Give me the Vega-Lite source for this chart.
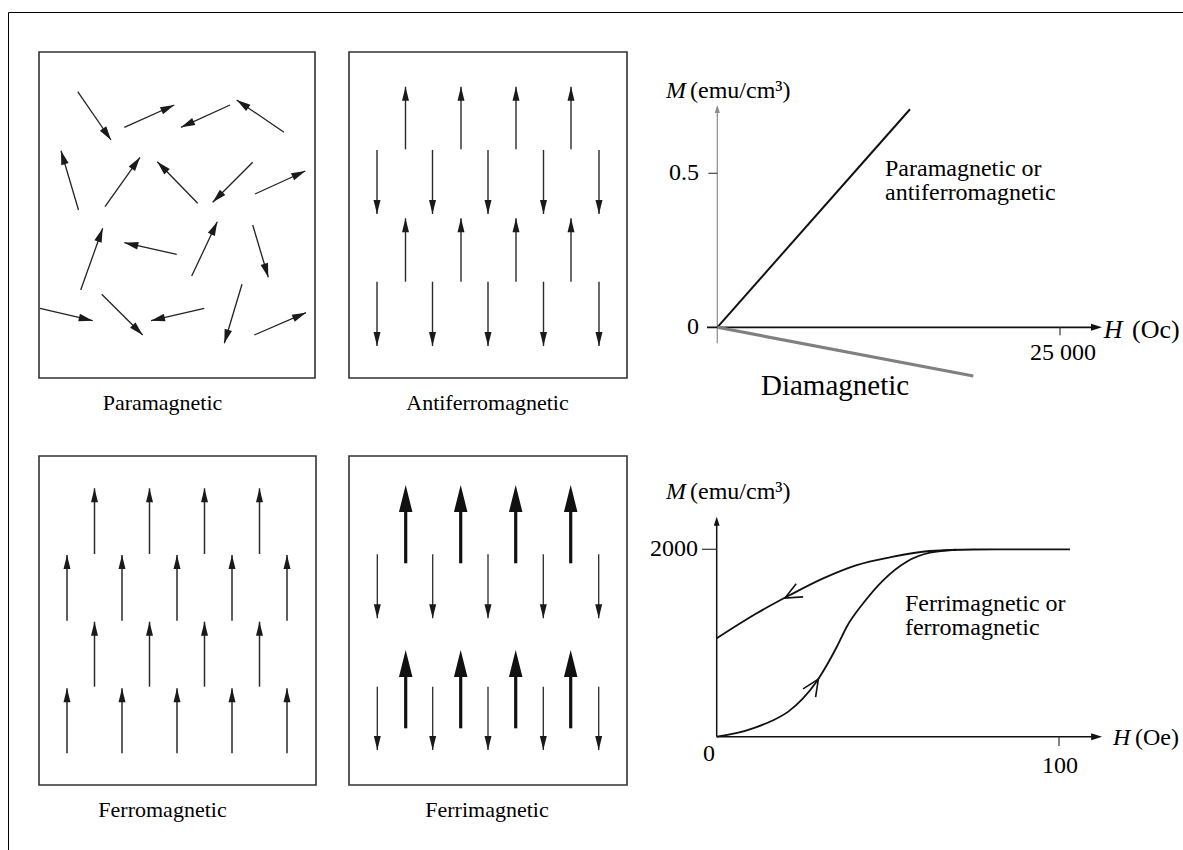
{
"$schema": "https://vega.github.io/schema/vega-lite/v6.json",
"width": 1175,
"height": 838,
"autosize": {"type": "none"},
"padding": {"left": 8, "top": 12, "right": 0, "bottom": 0},
"background": "white",
"config": {"view": {"stroke": "#000000", "strokeWidth": 1}, "text": {"font": "Liberation Serif", "color": "#000000"}},
"datasets": {
"para": [
{"x0":3.87,"y0":28.63,"x1":7.2,"y1":23.8,"angle":145.4},
{"x0":8.53,"y0":25.07,"x1":13.53,"y1":27.3,"angle":66.0},
{"x0":19.1,"y0":27.3,"x1":14.2,"y1":25.07,"angle":-114.5},
{"x0":24.5,"y0":24.57,"x1":19.77,"y1":27.8,"angle":-55.7},
{"x0":3.95,"y0":16.8,"x1":2.2,"y1":22.73,"angle":-16.4},
{"x0":6.6,"y0":17.13,"x1":10.1,"y1":22.07,"angle":35.3},
{"x0":15.87,"y0":17.47,"x1":11.83,"y1":21.63,"angle":-44.2},
{"x0":21.37,"y0":21.57,"x1":17.37,"y1":17.57,"angle":-135},
{"x0":21.6,"y0":18.4,"x1":26.63,"y1":20.7,"angle":65.4},
{"x0":4.17,"y0":8.8,"x1":6.37,"y1":14.97,"angle":19.6},
{"x0":13.77,"y0":12.37,"x1":8.53,"y1":13.53,"angle":-77.5},
{"x0":15.27,"y0":10.2,"x1":17.83,"y1":15.63,"angle":25.2},
{"x0":21.37,"y0":15.3,"x1":22.93,"y1":10.07,"angle":163.4},
{"x0":0.1,"y0":6.97,"x1":5.37,"y1":5.73,"angle":103.2},
{"x0":6.27,"y0":8.37,"x1":10.37,"y1":4.3,"angle":134.8},
{"x0":16.53,"y0":6.97,"x1":11.2,"y1":5.73,"angle":-103.1},
{"x0":20.3,"y0":9.37,"x1":18.53,"y1":3.47,"angle":-163.3},
{"x0":21.53,"y0":4.3,"x1":26.7,"y1":6.53,"angle":66.7}
],
"afm": [
{"x0":5.65,"y0":22.87,"x1":5.65,"y1":29.13,"angle":0},
{"x0":11.2,"y0":22.87,"x1":11.2,"y1":29.13,"angle":0},
{"x0":16.7,"y0":22.87,"x1":16.7,"y1":29.13,"angle":0},
{"x0":22.2,"y0":22.87,"x1":22.2,"y1":29.13,"angle":0},
{"x0":2.8,"y0":22.8,"x1":2.8,"y1":16.4,"angle":180},
{"x0":8.35,"y0":22.8,"x1":8.35,"y1":16.4,"angle":180},
{"x0":13.9,"y0":22.8,"x1":13.9,"y1":16.4,"angle":180},
{"x0":19.45,"y0":22.8,"x1":19.45,"y1":16.4,"angle":180},
{"x0":25.0,"y0":22.8,"x1":25.0,"y1":16.4,"angle":180},
{"x0":5.65,"y0":9.63,"x1":5.65,"y1":15.97,"angle":0},
{"x0":11.2,"y0":9.63,"x1":11.2,"y1":15.97,"angle":0},
{"x0":16.7,"y0":9.63,"x1":16.7,"y1":15.97,"angle":0},
{"x0":22.2,"y0":9.63,"x1":22.2,"y1":15.97,"angle":0},
{"x0":2.8,"y0":9.63,"x1":2.8,"y1":3.2,"angle":180},
{"x0":8.35,"y0":9.63,"x1":8.35,"y1":3.2,"angle":180},
{"x0":13.9,"y0":9.63,"x1":13.9,"y1":3.2,"angle":180},
{"x0":19.45,"y0":9.63,"x1":19.45,"y1":3.2,"angle":180},
{"x0":25.0,"y0":9.63,"x1":25.0,"y1":3.2,"angle":180}
],
"fm": [
{"x0":5.55,"y0":23.1,"x1":5.55,"y1":29.67,"angle":0},
{"x0":11.05,"y0":23.1,"x1":11.05,"y1":29.67,"angle":0},
{"x0":16.55,"y0":23.1,"x1":16.55,"y1":29.67,"angle":0},
{"x0":22.05,"y0":23.1,"x1":22.05,"y1":29.67,"angle":0},
{"x0":2.8,"y0":16.43,"x1":2.8,"y1":23.0,"angle":0},
{"x0":8.3,"y0":16.43,"x1":8.3,"y1":23.0,"angle":0},
{"x0":13.8,"y0":16.43,"x1":13.8,"y1":23.0,"angle":0},
{"x0":19.3,"y0":16.43,"x1":19.3,"y1":23.0,"angle":0},
{"x0":24.8,"y0":16.43,"x1":24.8,"y1":23.0,"angle":0},
{"x0":5.55,"y0":9.83,"x1":5.55,"y1":16.33,"angle":0},
{"x0":11.05,"y0":9.83,"x1":11.05,"y1":16.33,"angle":0},
{"x0":16.55,"y0":9.83,"x1":16.55,"y1":16.33,"angle":0},
{"x0":22.05,"y0":9.83,"x1":22.05,"y1":16.33,"angle":0},
{"x0":2.8,"y0":3.17,"x1":2.8,"y1":9.67,"angle":0},
{"x0":8.3,"y0":3.17,"x1":8.3,"y1":9.67,"angle":0},
{"x0":13.8,"y0":3.17,"x1":13.8,"y1":9.67,"angle":0},
{"x0":19.3,"y0":3.17,"x1":19.3,"y1":9.67,"angle":0},
{"x0":24.8,"y0":3.17,"x1":24.8,"y1":9.67,"angle":0}
],
"fim": [
{"moment":"large","x0":5.67,"y0":22.17,"x1":5.67,"y1":30.0,"angle":0},
{"moment":"large","x0":11.17,"y0":22.17,"x1":11.17,"y1":30.0,"angle":0},
{"moment":"large","x0":16.67,"y0":22.17,"x1":16.67,"y1":30.0,"angle":0},
{"moment":"large","x0":22.17,"y0":22.17,"x1":22.17,"y1":30.0,"angle":0},
{"moment":"small","x0":2.83,"y0":23.07,"x1":2.83,"y1":16.67,"angle":180},
{"moment":"small","x0":8.37,"y0":23.07,"x1":8.37,"y1":16.67,"angle":180},
{"moment":"small","x0":13.9,"y0":23.07,"x1":13.9,"y1":16.67,"angle":180},
{"moment":"small","x0":19.43,"y0":23.07,"x1":19.43,"y1":16.67,"angle":180},
{"moment":"small","x0":24.97,"y0":23.07,"x1":24.97,"y1":16.67,"angle":180},
{"moment":"large","x0":5.67,"y0":5.67,"x1":5.67,"y1":13.5,"angle":0},
{"moment":"large","x0":11.17,"y0":5.67,"x1":11.17,"y1":13.5,"angle":0},
{"moment":"large","x0":16.67,"y0":5.67,"x1":16.67,"y1":13.5,"angle":0},
{"moment":"large","x0":22.17,"y0":5.67,"x1":22.17,"y1":13.5,"angle":0},
{"moment":"small","x0":2.83,"y0":9.83,"x1":2.83,"y1":3.5,"angle":180},
{"moment":"small","x0":8.37,"y0":9.83,"x1":8.37,"y1":3.5,"angle":180},
{"moment":"small","x0":13.9,"y0":9.83,"x1":13.9,"y1":3.5,"angle":180},
{"moment":"small","x0":19.43,"y0":9.83,"x1":19.43,"y1":3.5,"angle":180},
{"moment":"small","x0":24.97,"y0":9.83,"x1":24.97,"y1":3.5,"angle":180}
],
"g1lines": [
{"material":"paramagnetic","H":0,"M":0},
{"material":"paramagnetic","H":14058,"M":0.708},
{"material":"diamagnetic","H":0,"M":0},
{"material":"diamagnetic","H":18675,"M":-0.158}
],
"hyst": [
{"branch":"decreasing","H":0,"M":1050},
{"branch":"decreasing","H":11.7,"M":1317},
{"branch":"decreasing","H":21.4,"M":1512},
{"branch":"decreasing","H":31.1,"M":1690},
{"branch":"decreasing","H":40.9,"M":1832},
{"branch":"decreasing","H":50.6,"M":1915},
{"branch":"decreasing","H":62.3,"M":1982},
{"branch":"decreasing","H":75,"M":1998},
{"branch":"decreasing","H":103.2,"M":2000},
{"branch":"increasing","H":0,"M":0},
{"branch":"increasing","H":6,"M":40},
{"branch":"increasing","H":11,"M":95},
{"branch":"increasing","H":16.5,"M":175},
{"branch":"increasing","H":21,"M":270},
{"branch":"increasing","H":25,"M":400},
{"branch":"increasing","H":29.2,"M":590},
{"branch":"increasing","H":35.1,"M":960},
{"branch":"increasing","H":38.0,"M":1174},
{"branch":"increasing","H":42.8,"M":1424},
{"branch":"increasing","H":48.7,"M":1672},
{"branch":"increasing","H":55.5,"M":1868},
{"branch":"increasing","H":62.3,"M":1964},
{"branch":"increasing","H":70,"M":1995}
],
"g2arrows": [
{"branch":"decreasing","H":19.95,"M":1480,"angle":-117.9},
{"branch":"increasing","H":29.7,"M":615,"angle":33}
]
},
"resolve": {"scale": {"x": "independent", "y": "independent"}},
"layer": [
{
"data": {"name": "para"},
"layer": [
{"data": {"values": [{}]}, "mark": {"type": "rect", "filled": false, "color": "#333333", "strokeWidth": 1.6},
 "encoding": {"x": {"datum": 0, "type": "quantitative", "scale": {"domain": [0, 27.6], "range": [31, 307], "nice": false, "zero": false}, "axis": null}, "x2": {"datum": 27.6},
  "y": {"datum": 0, "type": "quantitative", "scale": {"domain": [0, 32.6], "range": [366, 40], "nice": false, "zero": false}, "axis": null}, "y2": {"datum": 32.6}}},
{"mark": {"type": "rule", "color": "#222222", "strokeWidth": 1.3},
 "encoding": {"x": {"field": "x0", "type": "quantitative", "scale": {"domain": [0, 27.6], "range": [31, 307], "nice": false, "zero": false}, "axis": null}, "x2": {"field": "x1"},
  "y": {"field": "y0", "type": "quantitative", "scale": {"domain": [0, 32.6], "range": [366, 40], "nice": false, "zero": false}, "axis": null}, "y2": {"field": "y1"}}},
{"mark": {"type": "point", "shape": "M0,0L-0.55,2L0.55,2Z", "filled": true, "color": "#1a1a1a", "opacity": 1, "size": 196, "strokeWidth": 0},
 "encoding": {"x": {"field": "x1", "type": "quantitative", "scale": {"domain": [0, 27.6], "range": [31, 307], "nice": false, "zero": false}, "axis": null},
  "y": {"field": "y1", "type": "quantitative", "scale": {"domain": [0, 32.6], "range": [366, 40], "nice": false, "zero": false}, "axis": null},
  "angle": {"field": "angle", "type": "quantitative", "scale": null}}},
{"data": {"values": [{}]}, "mark": {"type": "text", "fontSize": 22, "align": "center", "baseline": "alphabetic"},
 "encoding": {"x": {"datum": 12.35, "type": "quantitative", "scale": {"domain": [0, 27.6], "range": [31, 307], "nice": false, "zero": false}, "axis": null},
  "y": {"datum": -3.2, "type": "quantitative", "scale": {"domain": [0, 32.6], "range": [366, 40], "nice": false, "zero": false}, "axis": null},
  "text": {"value": "Paramagnetic"}}}
]
},
{
"data": {"name": "afm"},
"layer": [
{"data": {"values": [{}]}, "mark": {"type": "rect", "filled": false, "color": "#333333", "strokeWidth": 1.6},
 "encoding": {"x": {"datum": 0, "type": "quantitative", "scale": {"domain": [0, 27.8], "range": [341, 619], "nice": false, "zero": false}, "axis": null}, "x2": {"datum": 27.8},
  "y": {"datum": 0, "type": "quantitative", "scale": {"domain": [0, 32.6], "range": [366, 40], "nice": false, "zero": false}, "axis": null}, "y2": {"datum": 32.6}}},
{"mark": {"type": "rule", "color": "#2a2a2a", "strokeWidth": 1.4},
 "encoding": {"x": {"field": "x0", "type": "quantitative", "scale": {"domain": [0, 27.8], "range": [341, 619], "nice": false, "zero": false}, "axis": null}, "x2": {"field": "x1"},
  "y": {"field": "y0", "type": "quantitative", "scale": {"domain": [0, 32.6], "range": [366, 40], "nice": false, "zero": false}, "axis": null}, "y2": {"field": "y1"}}},
{"mark": {"type": "point", "shape": "M0,0L-0.5,2L0.5,2Z", "filled": true, "color": "#1a1a1a", "opacity": 1, "size": 196, "strokeWidth": 0},
 "encoding": {"x": {"field": "x1", "type": "quantitative", "scale": {"domain": [0, 27.8], "range": [341, 619], "nice": false, "zero": false}, "axis": null},
  "y": {"field": "y1", "type": "quantitative", "scale": {"domain": [0, 32.6], "range": [366, 40], "nice": false, "zero": false}, "axis": null},
  "angle": {"field": "angle", "type": "quantitative", "scale": null}}},
{"data": {"values": [{}]}, "mark": {"type": "text", "fontSize": 22, "align": "center", "baseline": "alphabetic"},
 "encoding": {"x": {"datum": 13.85, "type": "quantitative", "scale": {"domain": [0, 27.8], "range": [341, 619], "nice": false, "zero": false}, "axis": null},
  "y": {"datum": -3.2, "type": "quantitative", "scale": {"domain": [0, 32.6], "range": [366, 40], "nice": false, "zero": false}, "axis": null},
  "text": {"value": "Antiferromagnetic"}}}
]
},
{
"data": {"name": "fm"},
"layer": [
{"data": {"values": [{}]}, "mark": {"type": "rect", "filled": false, "color": "#333333", "strokeWidth": 1.6},
 "encoding": {"x": {"datum": 0, "type": "quantitative", "scale": {"domain": [0, 27.7], "range": [31, 308], "nice": false, "zero": false}, "axis": null}, "x2": {"datum": 27.7},
  "y": {"datum": 0, "type": "quantitative", "scale": {"domain": [0, 32.9], "range": [773, 444], "nice": false, "zero": false}, "axis": null}, "y2": {"datum": 32.9}}},
{"mark": {"type": "rule", "color": "#2a2a2a", "strokeWidth": 1.5},
 "encoding": {"x": {"field": "x0", "type": "quantitative", "scale": {"domain": [0, 27.7], "range": [31, 308], "nice": false, "zero": false}, "axis": null}, "x2": {"field": "x1"},
  "y": {"field": "y0", "type": "quantitative", "scale": {"domain": [0, 32.9], "range": [773, 444], "nice": false, "zero": false}, "axis": null}, "y2": {"field": "y1"}}},
{"mark": {"type": "point", "shape": "M0,0L-0.5,2L0.5,2Z", "filled": true, "color": "#1a1a1a", "opacity": 1, "size": 196, "strokeWidth": 0},
 "encoding": {"x": {"field": "x1", "type": "quantitative", "scale": {"domain": [0, 27.7], "range": [31, 308], "nice": false, "zero": false}, "axis": null},
  "y": {"field": "y1", "type": "quantitative", "scale": {"domain": [0, 32.9], "range": [773, 444], "nice": false, "zero": false}, "axis": null},
  "angle": {"field": "angle", "type": "quantitative", "scale": null}}},
{"data": {"values": [{}]}, "mark": {"type": "text", "fontSize": 22, "align": "center", "baseline": "alphabetic"},
 "encoding": {"x": {"datum": 12.35, "type": "quantitative", "scale": {"domain": [0, 27.7], "range": [31, 308], "nice": false, "zero": false}, "axis": null},
  "y": {"datum": -3.2, "type": "quantitative", "scale": {"domain": [0, 32.9], "range": [773, 444], "nice": false, "zero": false}, "axis": null},
  "text": {"value": "Ferromagnetic"}}}
]
},
{
"data": {"name": "fim"},
"layer": [
{"data": {"values": [{}]}, "mark": {"type": "rect", "filled": false, "color": "#333333", "strokeWidth": 1.6},
 "encoding": {"x": {"datum": 0, "type": "quantitative", "scale": {"domain": [0, 27.8], "range": [341, 619], "nice": false, "zero": false}, "axis": null}, "x2": {"datum": 27.8},
  "y": {"datum": 0, "type": "quantitative", "scale": {"domain": [0, 32.9], "range": [773, 444], "nice": false, "zero": false}, "axis": null}, "y2": {"datum": 32.9}}},
{"transform": [{"filter": "datum.moment === 'large'"}], "mark": {"type": "rule", "color": "#111111", "strokeWidth": 3.2, "y2Offset": 12},
 "encoding": {"x": {"field": "x0", "type": "quantitative", "scale": {"domain": [0, 27.8], "range": [341, 619], "nice": false, "zero": false}, "axis": null}, "x2": {"field": "x1"},
  "y": {"field": "y0", "type": "quantitative", "scale": {"domain": [0, 32.9], "range": [773, 444], "nice": false, "zero": false}, "axis": null}, "y2": {"field": "y1"}}},
{"transform": [{"filter": "datum.moment === 'small'"}], "mark": {"type": "rule", "color": "#2a2a2a", "strokeWidth": 1.3},
 "encoding": {"x": {"field": "x0", "type": "quantitative", "scale": {"domain": [0, 27.8], "range": [341, 619], "nice": false, "zero": false}, "axis": null}, "x2": {"field": "x1"},
  "y": {"field": "y0", "type": "quantitative", "scale": {"domain": [0, 32.9], "range": [773, 444], "nice": false, "zero": false}, "axis": null}, "y2": {"field": "y1"}}},
{"transform": [{"filter": "datum.moment === 'large'"}], "mark": {"type": "point", "shape": "M0,0L-0.5,2L0.5,2Z", "filled": true, "color": "#111111", "opacity": 1, "size": 729, "strokeWidth": 0},
 "encoding": {"x": {"field": "x1", "type": "quantitative", "scale": {"domain": [0, 27.8], "range": [341, 619], "nice": false, "zero": false}, "axis": null},
  "y": {"field": "y1", "type": "quantitative", "scale": {"domain": [0, 32.9], "range": [773, 444], "nice": false, "zero": false}, "axis": null},
  "angle": {"field": "angle", "type": "quantitative", "scale": null}}},
{"transform": [{"filter": "datum.moment === 'small'"}], "mark": {"type": "point", "shape": "M0,0L-0.5,2L0.5,2Z", "filled": true, "color": "#1a1a1a", "opacity": 1, "size": 196, "strokeWidth": 0},
 "encoding": {"x": {"field": "x1", "type": "quantitative", "scale": {"domain": [0, 27.8], "range": [341, 619], "nice": false, "zero": false}, "axis": null},
  "y": {"field": "y1", "type": "quantitative", "scale": {"domain": [0, 32.9], "range": [773, 444], "nice": false, "zero": false}, "axis": null},
  "angle": {"field": "angle", "type": "quantitative", "scale": null}}},
{"data": {"values": [{}]}, "mark": {"type": "text", "fontSize": 22, "align": "center", "baseline": "alphabetic"},
 "encoding": {"x": {"datum": 13.8, "type": "quantitative", "scale": {"domain": [0, 27.8], "range": [341, 619], "nice": false, "zero": false}, "axis": null},
  "y": {"datum": -3.2, "type": "quantitative", "scale": {"domain": [0, 32.9], "range": [773, 444], "nice": false, "zero": false}, "axis": null},
  "text": {"value": "Ferrimagnetic"}}}
]
},
{
"data": {"values": [{}]},
"layer": [
{"mark": {"type": "rule", "color": "#8c8c8c", "strokeWidth": 1.2},
 "encoding": {"x": {"datum": 0, "type": "quantitative", "scale": {"domain": [0, 25000], "range": [709.3, 1052], "nice": false, "zero": false}, "axis": null},
  "y": {"datum": -0.052, "type": "quantitative", "scale": {"domain": [0, 0.5], "range": [315.3, 161.3], "nice": false, "zero": false}, "axis": null}, "y2": {"datum": 0.715}}},
{"mark": {"type": "point", "shape": "M0,0L-0.65,2L0.65,2Z", "filled": true, "color": "#8c8c8c", "opacity": 1, "size": 64, "strokeWidth": 0},
 "encoding": {"x": {"datum": 0, "type": "quantitative", "scale": {"domain": [0, 25000], "range": [709.3, 1052], "nice": false, "zero": false}, "axis": null},
  "y": {"datum": 0.722, "type": "quantitative", "scale": {"domain": [0, 0.5], "range": [315.3, 161.3], "nice": false, "zero": false}, "axis": null}, "angle": {"value": 0}}},
{"mark": {"type": "rule", "color": "#111111", "strokeWidth": 1.8},
 "encoding": {"x": {"datum": -750, "type": "quantitative", "scale": {"domain": [0, 25000], "range": [709.3, 1052], "nice": false, "zero": false}, "axis": null}, "x2": {"datum": 27700},
  "y": {"datum": 0, "type": "quantitative", "scale": {"domain": [0, 0.5], "range": [315.3, 161.3], "nice": false, "zero": false}, "axis": null}}},
{"mark": {"type": "point", "shape": "M0,0L-0.65,2L0.65,2Z", "filled": true, "color": "#111111", "opacity": 1, "size": 121, "strokeWidth": 0},
 "encoding": {"x": {"datum": 28064, "type": "quantitative", "scale": {"domain": [0, 25000], "range": [709.3, 1052], "nice": false, "zero": false}, "axis": null},
  "y": {"datum": 0, "type": "quantitative", "scale": {"domain": [0, 0.5], "range": [315.3, 161.3], "nice": false, "zero": false}, "axis": null}, "angle": {"value": 90}}},
{"mark": {"type": "rule", "color": "#444444", "strokeWidth": 1.2},
 "encoding": {"x": {"datum": -650, "type": "quantitative", "scale": {"domain": [0, 25000], "range": [709.3, 1052], "nice": false, "zero": false}, "axis": null}, "x2": {"datum": 0},
  "y": {"datum": 0.5, "type": "quantitative", "scale": {"domain": [0, 0.5], "range": [315.3, 161.3], "nice": false, "zero": false}, "axis": null}}},
{"mark": {"type": "rule", "color": "#333333", "strokeWidth": 1.2},
 "encoding": {"x": {"datum": 25000, "type": "quantitative", "scale": {"domain": [0, 25000], "range": [709.3, 1052], "nice": false, "zero": false}, "axis": null},
  "y": {"datum": 0, "type": "quantitative", "scale": {"domain": [0, 0.5], "range": [315.3, 161.3], "nice": false, "zero": false}, "axis": null}, "y2": {"datum": -0.026}}},
{"data": {"name": "g1lines"}, "transform": [{"filter": "datum.material === 'paramagnetic'"}], "mark": {"type": "line", "color": "#111111", "strokeWidth": 2},
 "encoding": {"x": {"field": "H", "type": "quantitative", "scale": {"domain": [0, 25000], "range": [709.3, 1052], "nice": false, "zero": false}, "axis": null},
  "y": {"field": "M", "type": "quantitative", "scale": {"domain": [0, 0.5], "range": [315.3, 161.3], "nice": false, "zero": false}, "axis": null}}},
{"data": {"name": "g1lines"}, "transform": [{"filter": "datum.material === 'diamagnetic'"}], "mark": {"type": "line", "color": "#808080", "strokeWidth": 3.2},
 "encoding": {"x": {"field": "H", "type": "quantitative", "scale": {"domain": [0, 25000], "range": [709.3, 1052], "nice": false, "zero": false}, "axis": null},
  "y": {"field": "M", "type": "quantitative", "scale": {"domain": [0, 0.5], "range": [315.3, 161.3], "nice": false, "zero": false}, "axis": null}}},
{"mark": {"type": "text", "fontSize": 24, "align": "right", "baseline": "middle"},
 "encoding": {"x": {"datum": -1335, "type": "quantitative", "scale": {"domain": [0, 25000], "range": [709.3, 1052], "nice": false, "zero": false}, "axis": null},
  "y": {"datum": 0.5, "type": "quantitative", "scale": {"domain": [0, 0.5], "range": [315.3, 161.3], "nice": false, "zero": false}, "axis": null}, "text": {"value": "0.5"}}},
{"mark": {"type": "text", "fontSize": 24, "align": "right", "baseline": "middle"},
 "encoding": {"x": {"datum": -1335, "type": "quantitative", "scale": {"domain": [0, 25000], "range": [709.3, 1052], "nice": false, "zero": false}, "axis": null},
  "y": {"datum": 0, "type": "quantitative", "scale": {"domain": [0, 0.5], "range": [315.3, 161.3], "nice": false, "zero": false}, "axis": null}, "text": {"value": "0"}}},
{"mark": {"type": "text", "fontSize": 24, "align": "center", "baseline": "middle"},
 "encoding": {"x": {"datum": 25219, "type": "quantitative", "scale": {"domain": [0, 25000], "range": [709.3, 1052], "nice": false, "zero": false}, "axis": null},
  "y": {"datum": -0.085, "type": "quantitative", "scale": {"domain": [0, 0.5], "range": [315.3, 161.3], "nice": false, "zero": false}, "axis": null}, "text": {"value": "25 000"}}},
{"mark": {"type": "text", "fontSize": 24, "fontStyle": "italic", "align": "right", "baseline": "alphabetic"},
 "encoding": {"x": {"datum": -2283, "type": "quantitative", "scale": {"domain": [0, 25000], "range": [709.3, 1052], "nice": false, "zero": false}, "axis": null},
  "y": {"datum": 0.746, "type": "quantitative", "scale": {"domain": [0, 0.5], "range": [315.3, 161.3], "nice": false, "zero": false}, "axis": null}, "text": {"value": "M"}}},
{"mark": {"type": "text", "fontSize": 24, "align": "left", "baseline": "alphabetic"},
 "encoding": {"x": {"datum": -1992, "type": "quantitative", "scale": {"domain": [0, 25000], "range": [709.3, 1052], "nice": false, "zero": false}, "axis": null},
  "y": {"datum": 0.746, "type": "quantitative", "scale": {"domain": [0, 0.5], "range": [315.3, 161.3], "nice": false, "zero": false}, "axis": null}, "text": {"value": "(emu/cm³)"}}},
{"mark": {"type": "text", "fontSize": 26, "fontStyle": "italic", "align": "left", "baseline": "middle"},
 "encoding": {"x": {"datum": 28200, "type": "quantitative", "scale": {"domain": [0, 25000], "range": [709.3, 1052], "nice": false, "zero": false}, "axis": null},
  "y": {"datum": -0.0088, "type": "quantitative", "scale": {"domain": [0, 0.5], "range": [315.3, 161.3], "nice": false, "zero": false}, "axis": null}, "text": {"value": "H"}}},
{"mark": {"type": "text", "fontSize": 26, "align": "left", "baseline": "middle"},
 "encoding": {"x": {"datum": 30250, "type": "quantitative", "scale": {"domain": [0, 25000], "range": [709.3, 1052], "nice": false, "zero": false}, "axis": null},
  "y": {"datum": -0.0088, "type": "quantitative", "scale": {"domain": [0, 0.5], "range": [315.3, 161.3], "nice": false, "zero": false}, "axis": null}, "text": {"value": "(Oc)"}}},
{"mark": {"type": "text", "fontSize": 24, "align": "left", "baseline": "alphabetic", "lineBreak": "\n", "lineHeight": 24},
 "encoding": {"x": {"datum": 12234, "type": "quantitative", "scale": {"domain": [0, 25000], "range": [709.3, 1052], "nice": false, "zero": false}, "axis": null},
  "y": {"datum": 0.491, "type": "quantitative", "scale": {"domain": [0, 0.5], "range": [315.3, 161.3], "nice": false, "zero": false}, "axis": null}, "text": {"value": "Paramagnetic or\nantiferromagnetic"}}},
{"mark": {"type": "text", "fontSize": 29, "align": "left", "baseline": "alphabetic"},
 "encoding": {"x": {"datum": 3188, "type": "quantitative", "scale": {"domain": [0, 25000], "range": [709.3, 1052], "nice": false, "zero": false}, "axis": null},
  "y": {"datum": -0.22, "type": "quantitative", "scale": {"domain": [0, 0.5], "range": [315.3, 161.3], "nice": false, "zero": false}, "axis": null}, "text": {"value": "Diamagnetic"}}}
]
},
{
"data": {"values": [{}]},
"layer": [
{"mark": {"type": "rule", "color": "#111111", "strokeWidth": 1.5},
 "encoding": {"x": {"datum": 0, "type": "quantitative", "scale": {"domain": [0, 100], "range": [708.7, 1051], "nice": false, "zero": false}, "axis": null},
  "y": {"datum": 0, "type": "quantitative", "scale": {"domain": [0, 2000], "range": [724.7, 537.3], "nice": false, "zero": false}, "axis": null}, "y2": {"datum": 2300}}},
{"mark": {"type": "point", "shape": "M0,0L-0.65,2L0.65,2Z", "filled": true, "color": "#111111", "opacity": 1, "size": 81, "strokeWidth": 0},
 "encoding": {"x": {"datum": 0, "type": "quantitative", "scale": {"domain": [0, 100], "range": [708.7, 1051], "nice": false, "zero": false}, "axis": null},
  "y": {"datum": 2348, "type": "quantitative", "scale": {"domain": [0, 2000], "range": [724.7, 537.3], "nice": false, "zero": false}, "axis": null}, "angle": {"value": 0}}},
{"mark": {"type": "rule", "color": "#111111", "strokeWidth": 1.5},
 "encoding": {"x": {"datum": 0, "type": "quantitative", "scale": {"domain": [0, 100], "range": [708.7, 1051], "nice": false, "zero": false}, "axis": null}, "x2": {"datum": 110},
  "y": {"datum": 0, "type": "quantitative", "scale": {"domain": [0, 2000], "range": [724.7, 537.3], "nice": false, "zero": false}, "axis": null}}},
{"mark": {"type": "point", "shape": "M0,0L-0.65,2L0.65,2Z", "filled": true, "color": "#111111", "opacity": 1, "size": 121, "strokeWidth": 0},
 "encoding": {"x": {"datum": 112.6, "type": "quantitative", "scale": {"domain": [0, 100], "range": [708.7, 1051], "nice": false, "zero": false}, "axis": null},
  "y": {"datum": 0, "type": "quantitative", "scale": {"domain": [0, 2000], "range": [724.7, 537.3], "nice": false, "zero": false}, "axis": null}, "angle": {"value": 90}}},
{"mark": {"type": "rule", "color": "#333333", "strokeWidth": 1.2},
 "encoding": {"x": {"datum": -4.3, "type": "quantitative", "scale": {"domain": [0, 100], "range": [708.7, 1051], "nice": false, "zero": false}, "axis": null}, "x2": {"datum": 0},
  "y": {"datum": 2000, "type": "quantitative", "scale": {"domain": [0, 2000], "range": [724.7, 537.3], "nice": false, "zero": false}, "axis": null}}},
{"mark": {"type": "rule", "color": "#333333", "strokeWidth": 1.2},
 "encoding": {"x": {"datum": 100, "type": "quantitative", "scale": {"domain": [0, 100], "range": [708.7, 1051], "nice": false, "zero": false}, "axis": null},
  "y": {"datum": 0, "type": "quantitative", "scale": {"domain": [0, 2000], "range": [724.7, 537.3], "nice": false, "zero": false}, "axis": null}, "y2": {"datum": -100}}},
{"data": {"name": "hyst"}, "mark": {"type": "line", "color": "#111111", "strokeWidth": 1.8, "interpolate": "monotone"},
 "encoding": {"x": {"field": "H", "type": "quantitative", "scale": {"domain": [0, 100], "range": [708.7, 1051], "nice": false, "zero": false}, "axis": null},
  "y": {"field": "M", "type": "quantitative", "scale": {"domain": [0, 2000], "range": [724.7, 537.3], "nice": false, "zero": false}, "axis": null},
  "detail": {"field": "branch", "type": "nominal"}}},
{"data": {"name": "g2arrows"}, "mark": {"type": "point", "shape": "M-0.45,1L0,0L0.45,1", "filled": false, "color": "#111111", "opacity": 1, "size": 1100, "strokeWidth": 1.6},
 "encoding": {"x": {"field": "H", "type": "quantitative", "scale": {"domain": [0, 100], "range": [708.7, 1051], "nice": false, "zero": false}, "axis": null},
  "y": {"field": "M", "type": "quantitative", "scale": {"domain": [0, 2000], "range": [724.7, 537.3], "nice": false, "zero": false}, "axis": null},
  "angle": {"field": "angle", "type": "quantitative", "scale": null}}},
{"mark": {"type": "text", "fontSize": 24, "align": "right", "baseline": "middle"},
 "encoding": {"x": {"datum": -5.46, "type": "quantitative", "scale": {"domain": [0, 100], "range": [708.7, 1051], "nice": false, "zero": false}, "axis": null},
  "y": {"datum": 2000, "type": "quantitative", "scale": {"domain": [0, 2000], "range": [724.7, 537.3], "nice": false, "zero": false}, "axis": null}, "text": {"value": "2000"}}},
{"mark": {"type": "text", "fontSize": 24, "align": "center", "baseline": "middle"},
 "encoding": {"x": {"datum": -2.25, "type": "quantitative", "scale": {"domain": [0, 100], "range": [708.7, 1051], "nice": false, "zero": false}, "axis": null},
  "y": {"datum": -185, "type": "quantitative", "scale": {"domain": [0, 2000], "range": [724.7, 537.3], "nice": false, "zero": false}, "axis": null}, "text": {"value": "0"}}},
{"mark": {"type": "text", "fontSize": 24, "align": "center", "baseline": "middle"},
 "encoding": {"x": {"datum": 100.3, "type": "quantitative", "scale": {"domain": [0, 100], "range": [708.7, 1051], "nice": false, "zero": false}, "axis": null},
  "y": {"datum": -313, "type": "quantitative", "scale": {"domain": [0, 2000], "range": [724.7, 537.3], "nice": false, "zero": false}, "axis": null}, "text": {"value": "100"}}},
{"mark": {"type": "text", "fontSize": 24, "fontStyle": "italic", "align": "right", "baseline": "alphabetic"},
 "encoding": {"x": {"datum": -8.97, "type": "quantitative", "scale": {"domain": [0, 100], "range": [708.7, 1051], "nice": false, "zero": false}, "axis": null},
  "y": {"datum": 2537, "type": "quantitative", "scale": {"domain": [0, 2000], "range": [724.7, 537.3], "nice": false, "zero": false}, "axis": null}, "text": {"value": "M"}}},
{"mark": {"type": "text", "fontSize": 24, "align": "left", "baseline": "alphabetic"},
 "encoding": {"x": {"datum": -7.8, "type": "quantitative", "scale": {"domain": [0, 100], "range": [708.7, 1051], "nice": false, "zero": false}, "axis": null},
  "y": {"datum": 2537, "type": "quantitative", "scale": {"domain": [0, 2000], "range": [724.7, 537.3], "nice": false, "zero": false}, "axis": null}, "text": {"value": "(emu/cm³)"}}},
{"mark": {"type": "text", "fontSize": 24, "fontStyle": "italic", "align": "left", "baseline": "middle"},
 "encoding": {"x": {"datum": 115.8, "type": "quantitative", "scale": {"domain": [0, 100], "range": [708.7, 1051], "nice": false, "zero": false}, "axis": null},
  "y": {"datum": -19, "type": "quantitative", "scale": {"domain": [0, 2000], "range": [724.7, 537.3], "nice": false, "zero": false}, "axis": null}, "text": {"value": "H"}}},
{"mark": {"type": "text", "fontSize": 24, "align": "left", "baseline": "middle"},
 "encoding": {"x": {"datum": 122.2, "type": "quantitative", "scale": {"domain": [0, 100], "range": [708.7, 1051], "nice": false, "zero": false}, "axis": null},
  "y": {"datum": -19, "type": "quantitative", "scale": {"domain": [0, 2000], "range": [724.7, 537.3], "nice": false, "zero": false}, "axis": null}, "text": {"value": "(Oe)"}}},
{"mark": {"type": "text", "fontSize": 24, "align": "left", "baseline": "alphabetic", "lineBreak": "\n", "lineHeight": 24},
 "encoding": {"x": {"datum": 55.0, "type": "quantitative", "scale": {"domain": [0, 100], "range": [708.7, 1051], "nice": false, "zero": false}, "axis": null},
  "y": {"datum": 1345, "type": "quantitative", "scale": {"domain": [0, 2000], "range": [724.7, 537.3], "nice": false, "zero": false}, "axis": null}, "text": {"value": "Ferrimagnetic or\nferromagnetic"}}}
]
}
]
}
